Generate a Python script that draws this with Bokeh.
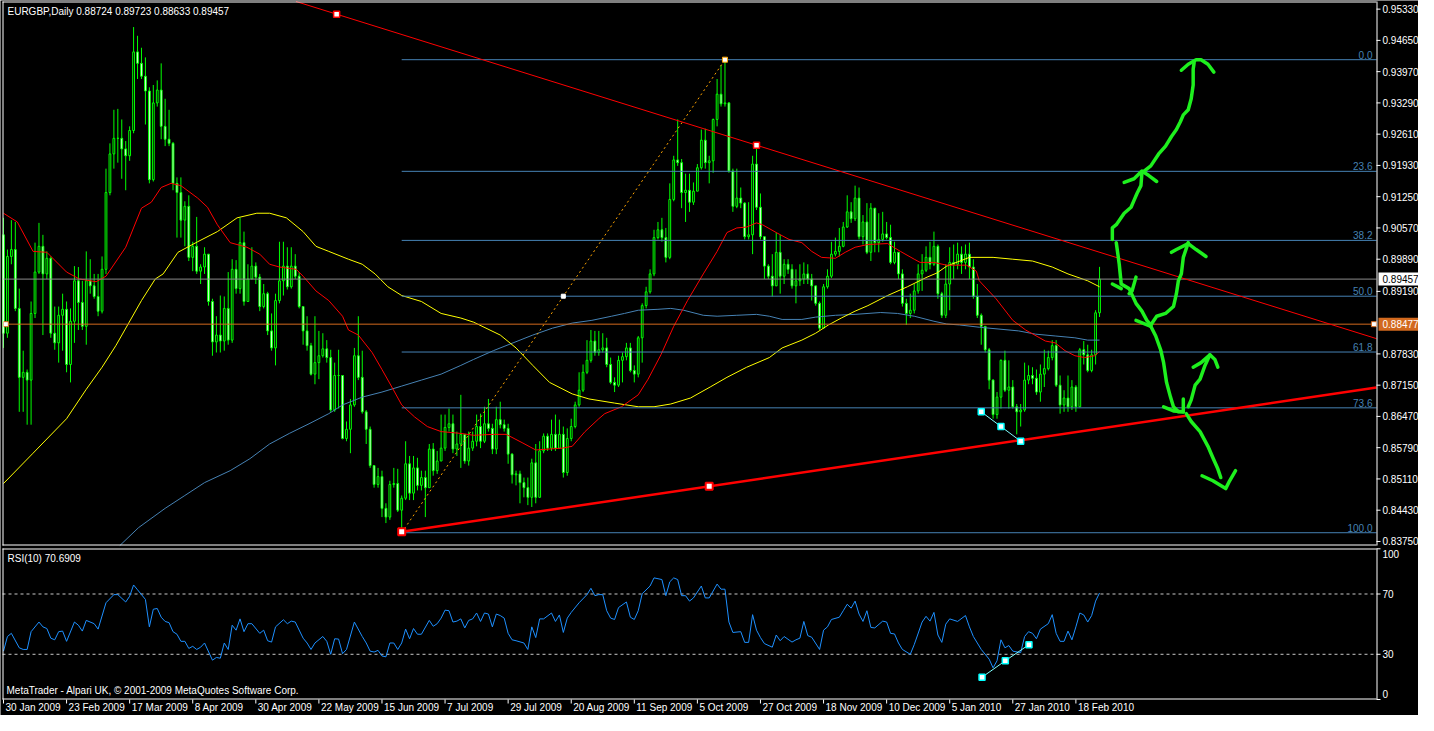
from bokeh.plotting import figure
from bokeh.models import Range1d, ColumnDataSource
from bokeh.core.properties import value
from bokeh.embed import file_html
from bokeh.resources import INLINE

# ---------------- data ----------------
first_open = 0.9042
closes = [
    .8828, .8995, .9010, .8882, .8732, .8743, .8726, .8871, .8961, .9017,
    .8957, .8991, .8828, .8807, .8867, .8880, .8760, .8854, .8942, .8895,
    .8843, .8942, .8931, .8908, .8876, .8967, .9134, .9218, .9252, .9252,
    .9229, .9214, .9269, .9440, .9415, .9387, .9355, .9162, .9329, .9357,
    .9278, .9250, .9241, .9154, .9134, .9074, .9104, .8993, .9017, .8963,
    .8972, .9000, .8897, .8809, .8824, .8811, .8882, .8813, .8967, .8925,
    .9025, .8897, .8946, .8974, .8950, .8886, .8914, .8833, .8796, .8899,
    .8942, .8974, .8929, .8974, .8952, .8886, .8833, .8801, .8739, .8764,
    .8779, .8794, .8775, .8661, .8736, .8736, .8599, .8619, .8672, .8779,
    .8732, .8657, .8619, .8540, .8499, .8516, .8447, .8428, .8499, .8501,
    .8443, .8469, .8544, .8480, .8535, .8497, .8514, .8492, .8576, .8529,
    .8550, .8578, .8623, .8631, .8576, .8587, .8608, .8550, .8578, .8593,
    .8625, .8593, .8631, .8621, .8576, .8640, .8629, .8621, .8565, .8520,
    .8522, .8503, .8492, .8471, .8546, .8471, .8572, .8604, .8578, .8608,
    .8578, .8608, .8525, .8599, .8625, .8672, .8704, .8743, .8769, .8811,
    .8786, .8792, .8796, .8760, .8721, .8715, .8769, .8777, .8796, .8747,
    .8739, .8818, .8888, .8918, .8957, .9036, .9053, .9036, .8993, .9119,
    .9205, .9199, .9134, .9139, .9113, .9137, .9188, .9248, .9199, .9203,
    .9293, .9348, .9327, .9329, .9181, .9104, .9122, .9111, .9038, .9042,
    .9196, .9102, .9038, .8974, .8952, .8931, .9004, .8952, .8978, .8967,
    .8931, .8942, .8946, .8957, .8946, .8931, .8893, .8839, .8929, .8952,
    .9000, .9006, .9017, .9059, .9092, .9077, .9122, .9038, .9070, .9004,
    .9100, .9025, .9032, .9044, .9036, .8982, .9004, .8957, .8893, .8871,
    .8878, .8920, .8957, .8965, .8993, .8978, .9017, .8914, .8867, .8935,
    .8982, .8978, .9000, .8982, .9000, .8972, .8908, .8867, .8843, .8792,
    .8726, .8651, .8689, .8769, .8704, .8711, .8668, .8657, .8661, .8726,
    .8736, .8730, .8700, .8739, .8751, .8775, .8801, .8715, .8672, .8687,
    .8668, .8711, .8668, .8792, .8781, .8747, .8781, .88724, .89457]

highs = [
    .9079, .9010, .9074, .9070, .8925, .8790, .8749, .8897, .9025, .9068,
    .9042, .9006, .8995, .8886, .8886, .8914, .8897, .8882, .8974, .8972,
    .8942, .9006, .8989, .8957, .8957, .8995, .9186, .9241, .9314, .9316,
    .9293, .9246, .9278, .9494, .9475, .9449, .9428, .9363, .9368, .9378,
    .9415, .9338, .9314, .9244, .9167, .9167, .9115, .9128, .9027, .9081,
    .8978, .9015, .9000, .8903, .8865, .8910, .8908, .8961, .8989, .8987,
    .9079, .9049, .8978, .9015, .8982, .8957, .8935, .8918, .8871, .8914,
    .9027, .9027, .9015, .9015, .9000, .8961, .8886, .8865, .8807, .8865,
    .8833, .8828, .8813, .8792, .8764, .8792, .8728, .8636, .8685, .8796,
    .8865, .8790, .8661, .8625, .8540, .8535, .8529, .8458, .8507, .8535,
    .8533, .8475, .8593, .8561, .8561, .8557, .8529, .8529, .8587, .8589,
    .8572, .8651, .8651, .8664, .8651, .8614, .8694, .8608, .8614, .8614,
    .8651, .8653, .8668, .8685, .8631, .8668, .8679, .8640, .8631, .8567,
    .8529, .8529, .8514, .8514, .8555, .8587, .8593, .8610, .8610, .8640,
    .8651, .8640, .8625, .8621, .8642, .8679, .8743, .8760, .8813, .8835,
    .8833, .8833, .8828, .8818, .8775, .8732, .8779, .8786, .8807, .8807,
    .8758, .8822, .8893, .8929, .8967, .9053, .9070, .9079, .9057, .9154,
    .9214, .9293, .9207, .9175, .9175, .9156, .9196, .9271, .9273, .9214,
    .9295, .9381, .9411, .9423, .9331, .9186, .9186, .9145, .9113, .9113,
    .9214, .9231, .9132, .9036, .8978, .9000, .9047, .9042, .8989, .8989,
    .8978, .8967, .8978, .8982, .8978, .8957, .8929, .8897, .8935, .8967,
    .9027, .9036, .9057, .9070, .9128, .9113, .9149, .9145, .9085, .9111,
    .9111, .9057, .9089, .9092, .9070, .9064, .9027, .8995, .8967, .8903,
    .8914, .8935, .8978, .9000, .9017, .9027, .9049, .9021, .8918, .8978,
    .9015, .9021, .9025, .9017, .9021, .9025, .8989, .8935, .8871, .8828,
    .8796, .8728, .8700, .8771, .8790, .8769, .8726, .8674, .8674, .8764,
    .8758, .8754, .8749, .8760, .8792, .8790, .8813, .8813, .8736, .8704,
    .8736, .8726, .8715, .8796, .8811, .8803, .8792, .8878, .89723]

lows = [
    .8796, .8818, .8978, .8876, .8657, .8657, .8629, .8629, .8861, .8957,
    .8824, .8946, .8818, .8792, .8764, .8790, .8743, .8721, .8807, .8835,
    .8835, .8803, .8914, .8903, .8865, .8871, .8957, .9128, .9186, .9199,
    .9164, .9139, .9203, .9263, .9381, .9381, .9282, .9154, .9158, .9321,
    .9250, .9235, .9235, .9139, .9036, .9036, .9017, .8985, .8963, .8957,
    .8935, .8957, .8888, .8779, .8786, .8786, .8790, .8803, .8807, .8914,
    .8914, .8888, .8935, .8957, .8935, .8876, .8882, .8824, .8790, .8758,
    .8893, .8910, .8923, .8925, .8946, .8882, .8803, .8790, .8736, .8717,
    .8728, .8775, .8764, .8657, .8657, .8664, .8597, .8593, .8567, .8668,
    .8726, .8653, .8587, .8535, .8492, .8492, .8428, .8415, .8422, .8492,
    .8439, .8394, .8465, .8465, .8465, .8486, .8486, .8428, .8501, .8518,
    .8522, .8550, .8572, .8614, .8567, .8561, .8535, .8544, .8540, .8572,
    .8582, .8578, .8589, .8614, .8565, .8565, .8621, .8614, .8544, .8501,
    .8497, .8458, .8471, .8454, .8450, .8458, .8486, .8567, .8572, .8572,
    .8572, .8578, .8514, .8518, .8593, .8621, .8668, .8700, .8739, .8764,
    .8779, .8779, .8786, .8754, .8717, .8700, .8711, .8721, .8769, .8743,
    .8721, .8732, .8764, .8882, .8914, .8952, .9032, .9027, .8982, .8989,
    .9115, .9192, .9100, .9070, .9092, .9107, .9149, .9184, .9186, .9154,
    .9177, .9278, .9321, .9321, .9177, .9092, .9100, .9100, .9032, .9032,
    .9000, .9096, .9032, .8946, .8946, .8908, .8935, .8914, .8935, .8957,
    .8925, .8893, .8931, .8935, .8935, .8899, .8888, .8835, .8839, .8925,
    .8948, .8995, .8995, .9015, .9057, .9068, .9072, .9032, .9021, .9000,
    .8985, .9004, .9004, .9027, .9032, .8978, .8978, .8946, .8886, .8846,
    .8861, .8871, .8914, .8920, .8961, .8967, .8974, .8903, .8861, .8861,
    .8878, .8946, .8967, .8957, .8967, .8946, .8903, .8861, .8803, .8786,
    .8706, .8642, .8642, .8664, .8700, .8664, .8664, .8608, .8625, .8657,
    .8717, .8717, .8694, .8679, .8711, .8747, .8769, .8711, .8653, .8657,
    .8657, .8661, .8657, .8668, .8760, .8743, .8743, .8760, .88633]

# moving averages: (bar, price) points
ma_fast = [(0, .9089), (3.5, .9070), (7.5, .9006), (11, .9004), (16, .8961), (19.25, .8946), (23.5, .8940),
           (26, .8952), (31, .9015), (35, .9100), (37.5, .9113), (40, .9145), (42.5, .9154), (45, .9149),
           (49.25, .9122), (51.75, .9102), (54.25, .9064), (57.5, .9025), (61.75, .9015), (65, .9000),
           (67.5, .8978), (70, .8972), (74.25, .8967), (76, .8952), (79.25, .8920), (82.5, .8899), (86, .8865),
           (87.5, .8835), (90, .8824), (93.5, .8786), (96, .8749), (98.5, .8711), (101, .8672), (104.25, .8646),
           (107.5, .8625), (111, .8614), (116, .8610), (119.25, .8606), (124.25, .8608), (127.5, .8608),
           (131.75, .8589), (135, .8574), (141.75, .8578), (144.25, .8582), (147.5, .8614), (151, .8642),
           (152.5, .8653), (156.75, .8668), (161, .8694), (163.5, .8728), (166.75, .8781), (170, .8843),
           (173.5, .8899), (177.5, .8957), (181, .9006), (183.5, .9047), (186, .9057), (188.5, .9059),
           (191, .9068), (192.5, .9064), (196, .9047), (199.25, .9032), (202.5, .9025), (205, .9006),
           (207.5, .8993), (211, .8991), (213.5, .9004), (216, .9015), (219.25, .9021), (224.25, .9023),
           (227.5, .9006), (231, .8989), (232.5, .8982), (236, .8982), (239.25, .8976), (244.25, .8976),
           (246.75, .8963), (247.5, .8942), (251.75, .8903), (256, .8856), (259.25, .8835), (264.25, .8811),
           (266.75, .8807), (269.25, .8790), (271.75, .8779), (274.25, .8775), (276.75, .8779), (278, .8788)]
ma_mid = [(0, .8501), (7.5, .8567), (16, .8642), (21, .8706), (25, .8754), (28.5, .8801), (31.75, .8850),
          (35, .8899), (38.5, .8946), (40.5, .8957), (44.25, .9004), (49.25, .9027), (54.25, .9049),
          (59.25, .9079), (64.25, .9089), (67.5, .9089), (71.75, .9079), (76, .9049), (79.25, .9017),
          (82.5, .9006), (87.5, .8989), (91, .8978), (94.25, .8957), (97.5, .8929), (101, .8910), (106, .8897),
          (111, .8871), (116, .8861), (119.25, .8852), (126, .8824), (130, .8796), (134.25, .8758),
          (138.5, .8721), (144.25, .8696), (148.5, .8685), (155, .8676), (161, .8668), (165, .8668),
          (169.25, .8674), (174.25, .8687), (179.25, .8711), (183.5, .8732), (188.5, .8754), (194.25, .8775),
          (197.5, .8796), (202.5, .8813), (206, .8828), (209.25, .8846), (212.5, .8861), (216, .8876),
          (219.25, .8888), (224.25, .8910), (229.25, .8929), (234.25, .8950), (236.75, .8959), (239.25, .8974),
          (245, .8993), (251, .8993), (256, .8989), (261, .8985), (266, .8972), (270, .8957), (275, .8942),
          (278, .8929)]
ma_slow = [(29.25, .8364), (34.25, .8405), (41, .8447), (46, .8475), (51, .8503), (57.5, .8529), (62.5, .8555),
           (67.5, .8587), (72.5, .8610), (77.5, .8631), (82.5, .8653), (86, .8672), (91, .8689), (96, .8700),
           (101, .8713), (106, .8726), (111, .8739), (116, .8758), (119.25, .8771), (124.25, .8790),
           (129.25, .8807), (134.25, .8824), (139.25, .8839), (144.25, .8850), (149.25, .8856), (154.25, .8865),
           (157.5, .8871), (161, .8878), (166, .8880), (169.25, .8882), (172.5, .8878), (177.5, .8867),
           (181, .8865), (186, .8867), (191, .8869), (194.25, .8865), (197.5, .8858), (202.5, .8858),
           (206, .8863), (211, .8867), (216, .8869), (222.5, .8873), (226.75, .8871), (231, .8865),
           (236, .8854), (239.25, .8848), (242.5, .8846), (247.5, .8841), (252.5, .8837), (257.5, .8833),
           (261.75, .8826), (266.75, .8822), (271.75, .8818), (275, .8813), (278, .8813)]

rsi_points = [
    (0, 32.1), (1, 41.8), (2, 43.9), (4, 34.3), (5, 33.2), (6, 33.2), (7, 45.0), (9, 51.4), (10, 48.2), (11, 47.1),
    (12, 40.7), (13, 39.6), (14, 45.0), (15, 45.4), (16, 38.6), (18, 51.4), (19, 49.3), (20, 45.4), (21, 52.5),
    (23, 50.3), (24, 46.7), (26, 64.2), (28, 69.6), (29, 69.6), (31, 64.7), (32, 68.5), (33, 76.0), (34, 72.8),
    (36, 66.4), (37, 48.2), (38, 59.9), (39, 60.4), (40, 54.6), (41, 51.8), (42, 51.0), (43, 45.0), (44, 43.3),
    (45, 38.6), (46, 38.6), (47, 33.9), (48, 35.3), (49, 33.2), (50, 34.7), (51, 37.5), (53, 26.1), (54, 27.9),
    (55, 27.4), (56, 37.5), (57, 33.2), (58, 49.3), (59, 46.0), (60, 53.5), (61, 45.0), (62, 50.3), (63, 50.3),
    (65, 43.9), (66, 46.0), (67, 39.0), (68, 38.1), (69, 48.2), (71, 52.9), (72, 50.3), (73, 52.0), (74, 51.4),
    (76, 40.7), (77, 37.5), (78, 33.2), (79, 37.5), (81, 41.8), (82, 38.6), (83, 30.0), (84, 40.3), (85, 40.1),
    (86, 30.4), (87, 33.2), (89, 51.4), (91, 41.8), (92, 37.5), (93, 32.1), (94, 31.5), (95, 32.6), (96, 28.9),
    (97, 28.3), (98, 37.5), (99, 37.5), (100, 33.2), (101, 37.5), (102, 46.7), (103, 40.3), (104, 47.1),
    (105, 43.3), (106, 43.3), (108, 52.5), (109, 48.6), (110, 50.3), (111, 54.0), (112, 59.3), (113, 58.9),
    (114, 51.4), (115, 52.0), (116, 53.5), (117, 47.5), (118, 52.5), (119, 53.5), (120, 57.4), (121, 51.8),
    (122, 57.4), (123, 56.7), (124, 48.2), (125, 56.7), (126, 55.7), (127, 54.0), (128, 43.9), (129, 39.6),
    (130, 39.0), (132, 37.5), (133, 33.2), (134, 48.2), (135, 41.1), (136, 53.5), (137, 53.5), (139, 57.4),
    (140, 51.8), (141, 56.1), (142, 44.5), (143, 54.0), (144, 57.8), (146, 64.2), (148, 69.6), (149, 73.8),
    (150, 68.9), (151, 69.6), (152, 69.6), (153, 58.9), (154, 54.0), (155, 53.1), (156, 61.0), (158, 64.7),
    (159, 54.6), (160, 53.1), (161, 58.9), (162, 70.2), (164, 75.3), (165, 80.7), (167, 79.6), (168, 68.9),
    (169, 78.1), (170, 80.7), (171, 79.6), (172, 68.9), (173, 68.9), (174, 65.3), (175, 67.4), (177, 75.3),
    (178, 67.4), (179, 67.4), (181, 76.6), (182, 73.2), (183, 73.2), (184, 51.4), (185, 44.5), (187, 45.0),
    (188, 37.9), (189, 37.9), (190, 56.3), (191, 46.0), (192, 41.1), (193, 37.1), (195, 34.7), (196, 42.8),
    (197, 39.0), (198, 41.8), (200, 38.1), (201, 39.6), (202, 40.7), (203, 51.8), (204, 42.4), (205, 41.3),
    (207, 33.2), (208, 46.0), (209, 48.2), (210, 53.1), (212, 54.6), (213, 58.9), (214, 63.2), (215, 60.6),
    (216, 65.3), (217, 56.7), (218, 51.8), (219, 58.9), (220, 47.8), (221, 47.5), (223, 52.0), (224, 51.4),
    (225, 43.9), (226, 43.5), (227, 37.5), (228, 33.2), (230, 30.0), (231, 36.4), (233, 51.4), (234, 55.2),
    (235, 52.0), (236, 57.8), (237, 42.8), (238, 37.9), (239, 50.0), (240, 53.5), (242, 51.8), (244, 55.7),
    (245, 48.2), (246, 41.8), (247, 37.5), (248, 33.2), (250, 26.8), (251, 21.0), (252, 25.7), (253, 39.6),
    (254, 34.3), (255, 35.8), (256, 32.1), (258, 31.1), (259, 41.8), (260, 45.0), (261, 43.9), (262, 40.3),
    (263, 46.7), (265, 50.3), (266, 56.3), (267, 43.9), (268, 38.6), (269, 38.6), (270, 45.4), (271, 39.6),
    (272, 48.2), (273, 57.4), (274, 56.1), (275, 51.4), (276, 55.7), (277, 65.3), (278, 70.7)]

date_ticks = [0, 16, 32, 48, 64, 80, 96, 112, 128, 144, 160, 176, 192, 208, 224, 240, 256, 272]
date_labels = ["30 Jan 2009", "23 Feb 2009", "17 Mar 2009", "8 Apr 2009", "30 Apr 2009", "22 May 2009",
               "15 Jun 2009", "7 Jul 2009", "29 Jul 2009", "20 Aug 2009", "11 Sep 2009", "5 Oct 2009",
               "27 Oct 2009", "18 Nov 2009", "10 Dec 2009", "5 Jan 2010", "27 Jan 2010", "18 Feb 2010"]
price_ticks = [0.95330, 0.94650, 0.93970, 0.93290, 0.92610, 0.91930, 0.91250, 0.90570, 0.89890,
               0.89190, 0.87830, 0.87150, 0.86470, 0.85790, 0.85110, 0.84430, 0.83750]
rsi_ticks = [100, 70, 30, 0]
rsi_levels = [30, 70]

fib_high, fib_low, fib_start = 0.9423, 0.8394, 101
fib_levels = [0.0, 23.6, 38.2, 50.0, 61.8, 73.6, 100.0]
fib_high_bar = 183
fib_mid_bar = 142

bid_price = 0.89457
hline_price = 0.88477
upper_tl = [(84.5, 0.9522), (191, 0.9237)]
lower_tl = [(101, 0.8396), (179, 0.8495)]
cyan_main = [(248, 0.8657), (253, 0.8625), (258, 0.8593)]
cyan_rsi = [(248.2, 14.8), (254.1, 25.7), (260.1, 36.4)]

title_main = "EURGBP,Daily  0.88724 0.89723 0.88633 0.89457"
title_rsi = "RSI(10) 70.6909"
footer = "MetaTrader - Alpari UK, \u00a9 2001-2009 MetaQuotes Software Corp."

# hand-drawn green scenario arrows (bar, price)
green_paths = [
    [(281.25, .9032), (281.25, .9057), (282.25, .9064), (284.25, .9089), (286, .9102), (286.75, .9117),
     (287.5, .9132), (288.5, .9149), (288.75, .9177), (291, .9192), (293, .9218), (294.75, .9235),
     (296.25, .9256), (297.5, .9271), (298.5, .9288), (299.25, .9303), (300.5, .9314), (301.25, .9338),
     (301.75, .9368), (301.75, .9402), (302, .9417)],
    [(298.75, .9400), (300.5, .9413), (302.5, .9423), (303.75, .9423), (305.5, .9413), (307, .9396)],
    [(284.25, .9156), (286.75, .9164), (288.75, .9181), (290.5, .9171), (292.5, .9158)],
    [(282.25, .9025), (283, .8978), (283.5, .8935), (285.5, .8925), (287.25, .8893), (288.75, .8876),
     (290, .8856), (291, .8846)],
    [(281.25, .8935), (283.5, .8925)],
    [(287.25, .8950), (286.25, .8920), (285.5, .8914)],
    [(291, .8846), (292.5, .8865), (294.75, .8871), (296.75, .8886), (297.5, .8914), (298, .8942),
     (298.75, .8957), (299.25, .8993), (300.5, .9025)],
    [(296.25, .9004), (297.5, .9010), (300.5, .9023), (302.5, .9010), (305, .8995)],
    [(287.25, .8856), (291, .8843)],
    [(291, .8843), (292.25, .8822), (293.5, .8792), (294.25, .8764), (295, .8721), (296, .8689),
     (296.75, .8668), (298, .8657), (299.25, .8657)],
    [(294.25, .8668), (296.75, .8659), (299.25, .8657)],
    [(299.25, .8685), (299.25, .8657)],
    [(300.5, .8668), (301.25, .8683), (302.25, .8715), (303.5, .8728), (304.75, .8758), (306, .8781)],
    [(301.75, .8754), (303.75, .8764), (306, .8781), (307.25, .8771), (308, .8754)],
    [(300, .8653), (301.25, .8636), (303.5, .8614), (305.5, .8582), (306.75, .8557), (308, .8533),
     (308.75, .8514)],
    [(304, .8518), (306.75, .8507), (310, .8490), (311, .8507), (312.5, .8529)],
]

# ---------------- canvas geometry ----------------
W, H = 1418, 715
X0, X1 = -0.25, 348.25          # bar range of both panels
Y0, Y1 = 0.83662, 0.95496       # price range of the main panel
R0, R1 = 0.0, 100.2             # RSI range
LEFT_PX, CHART_W = 2, 1374      # chart area in pixels (the rest on the right is the price scale)
MAIN_TOP, MAIN_BOT = 1, 545     # main panel, canvas rows
RSI_TOP, RSI_BOT = 548, 699     # RSI panel, canvas rows

PPB = CHART_W / (X1 - X0)                 # pixels per bar
PPX = (Y1 - Y0) / (MAIN_BOT - MAIN_TOP)   # price per pixel
RPX = (R1 - R0) / (RSI_BOT - RSI_TOP)     # rsi per pixel


def dx(px):
    return px / PPB


def dp(px):
    return px * PPX


def dr(px):
    return px * RPX


XS, XE = X0 - dx(LEFT_PX), X1 + dx(W - LEFT_PX - CHART_W)
PT, PB = Y1 + dp(MAIN_TOP), Y1 - dp(H - MAIN_TOP)
RT, RB = R1 + dr(RSI_TOP), R0 - dr(H - RSI_BOT)

FONT = value("Liberation Sans")
FS = value("10px")
LIME = "#00FF00"
FIB = "#4682B4"

p = figure(width=W, height=H, x_range=Range1d(XS, XE), y_range=Range1d(PB, PT),
           output_backend="svg", toolbar_location=None, x_axis_location=None, y_axis_location=None,
           min_border=0, min_border_left=0, min_border_right=0, min_border_top=0, min_border_bottom=0,
           background_fill_color="black", border_fill_color="black", outline_line_color=None)
p.extra_y_ranges = {"rsi": Range1d(RB, RT)}
p.grid.visible = False

# ---------------- main panel ----------------
n = len(closes)
opens = [first_open] + closes[:-1]
idx = list(range(n))
tops = [max(o, c) for o, c in zip(opens, closes)]
bots = [min(o, c) for o, c in zip(opens, closes)]
hi = [max(h, t) for h, t in zip(highs, tops)]
lo = [min(l, b) for l, b in zip(lows, bots)]
fills = ["black" if c >= o else "white" for o, c in zip(opens, closes)]
src = ColumnDataSource(dict(x=idx, top=tops, bottom=bots, high=hi, low=lo, fill=fills))
p.segment(x0="x", y0="high", x1="x", y1="low", source=src, line_color=LIME, line_width=1)
p.vbar(x="x", width=0.45, top="top", bottom="bottom", source=src, fill_color="fill",
       line_color=LIME, line_width=1)


def clip_start(pts, ymin):
    (xa, ya), (xb, yb) = pts[0], pts[1]
    if ya < ymin:
        xa = xa + (ymin - ya) / (yb - ya) * (xb - xa)
        ya = ymin
    return [(xa, ya)] + pts[1:]


for pts, col in ((clip_start(ma_slow, Y0), "#4682B4"), (ma_mid, "#FFFF00"), (ma_fast, "#FF0000")):
    p.line([q[0] for q in pts], [q[1] for q in pts], line_color=col, line_width=1)

# horizontal lines
p.segment(x0=[X0, X0], y0=[bid_price, hline_price], x1=[X1, X1], y1=[bid_price, hline_price],
          line_color=["#8C8C8C", "#D2691E"], line_width=1)
p.scatter([0.6, 347.6], [hline_price, hline_price], marker="square", size=5,
          fill_color="white", line_color="#D2691E", line_width=1)

# fibonacci retracement
rng = fib_high - fib_low
fib_prices = [fib_high - lv / 100.0 * rng for lv in fib_levels]
p.segment(x0=fib_start, y0=fib_prices, x1=X1, y1=fib_prices, line_color=FIB, line_width=1)
p.text(x=[X1 - dx(4)] * len(fib_levels), y=[fp + dp(1) for fp in fib_prices],
       text=[f"{lv:.1f}" for lv in fib_levels], text_align="right", text_baseline="bottom",
       text_color=FIB, text_font=FONT, text_font_size=FS)
p.line([fib_start, fib_high_bar], [fib_low, fib_high], line_color="#FFA500", line_width=1, line_dash="2 3")
p.scatter([fib_high_bar], [fib_high], marker="square", size=5, fill_color="white", line_color="#FFA500")
p.scatter([fib_mid_bar], [fib_low + rng / 2], marker="square", size=4, fill_color="white", line_color="white")


def at(tl, x):
    (xa, ya), (xb, yb) = tl
    return ya + (x - xa) * (yb - ya) / (xb - xa)


def x_at(tl, y):
    (xa, ya), (xb, yb) = tl
    return xa + (y - ya) * (xb - xa) / (yb - ya)


# trend lines
xu = x_at(upper_tl, Y1)
p.line([xu, X1], [Y1, at(upper_tl, X1)], line_color="#FF0000", line_width=1)
p.line([lower_tl[0][0], X1], [lower_tl[0][1], at(lower_tl, X1)], line_color="#FF0000", line_width=2.5)
p.scatter([q[0] for q in upper_tl], [q[1] for q in upper_tl], marker="square", size=6,
          fill_color="white", line_color="#FF0000", line_width=1.5)
p.scatter([q[0] for q in lower_tl], [q[1] for q in lower_tl], marker="square", size=7,
          fill_color="white", line_color="#FF0000", line_width=2)

# cyan helper line
p.line([q[0] for q in cyan_main], [q[1] for q in cyan_main], line_color="#7FFFFF", line_width=1)
p.scatter([q[0] for q in cyan_main], [q[1] for q in cyan_main], marker="square", size=6,
          fill_color="white", line_color="#00FFFF", line_width=1.5)

# green hand-drawn arrows
p.multi_line([[q[0] for q in path] for path in green_paths], [[q[1] for q in path] for path in green_paths],
             line_color="#1EF01E", line_width=3.5, line_join="round", line_cap="round")

# panel frame (white borders) and price scale
p.segment(x0=[X0, X0, X0 + dx(0.5), X1 + dx(0.5)],
          y0=[Y1 - dp(0.5), Y0 + dp(0.5), Y0, Y0],
          x1=[X1, X1, X0 + dx(0.5), X1 + dx(0.5)],
          y1=[Y1 - dp(0.5), Y0 + dp(0.5), Y1, Y1], line_color="white", line_width=1)
p.segment(x0=X1, y0=price_ticks, x1=X1 + dx(4), y1=price_ticks, line_color="white", line_width=1)
p.text(x=[X1 + dx(6)] * len(price_ticks), y=price_ticks, text=[f"{t:.5f}" for t in price_ticks],
       text_align="left", text_baseline="middle", text_color="white", text_font=FONT, text_font_size=FS)

# current-price and line-price boxes on the price scale
p.quad(left=[X1 + dx(2), X1 + dx(2)], right=[XE, XE],
       bottom=[bid_price - dp(6.5), hline_price - dp(6.5)], top=[bid_price + dp(6.5), hline_price + dp(6.5)],
       fill_color=["white", "#D2691E"], line_color=None)
p.text(x=[X1 + dx(6)] * 2, y=[bid_price, hline_price], text=[f"{bid_price:.5f}", f"{hline_price:.5f}"],
       text_align="left", text_baseline="middle", text_color=["black", "white"], text_font=FONT,
       text_font_size=FS)

p.text(x=[X0 + dx(5)], y=[Y1 - dp(4)], text=[title_main], text_align="left", text_baseline="top",
       text_color="white", text_font=FONT, text_font_size=FS)

# ---------------- RSI panel ----------------
p.segment(x0=X0, y0=rsi_levels, x1=X1, y1=rsi_levels, line_color="#C8C8C8", line_width=1,
          line_dash="3 3", y_range_name="rsi")
p.line([q[0] for q in rsi_points], [q[1] for q in rsi_points], line_color="#1E90FF", line_width=1,
       y_range_name="rsi")
p.line([q[0] for q in cyan_rsi], [q[1] for q in cyan_rsi], line_color="#7FFFFF", line_width=1,
       y_range_name="rsi")
p.scatter([q[0] for q in cyan_rsi], [q[1] for q in cyan_rsi], marker="square", size=6,
          fill_color="white", line_color="#00FFFF", line_width=1.5, y_range_name="rsi")

p.segment(x0=[X0, X0, X0 + dx(0.5), X1 + dx(0.5)],
          y0=[R1 - dr(0.5), R0 + dr(0.5), R0, R0],
          x1=[X1, X1, X0 + dx(0.5), X1 + dx(0.5)],
          y1=[R1 - dr(0.5), R0 + dr(0.5), R1, R1], line_color="white", line_width=1, y_range_name="rsi")
p.segment(x0=X1, y0=rsi_ticks, x1=X1 + dx(4), y1=rsi_ticks, line_color="white", line_width=1,
          y_range_name="rsi")
p.text(x=[X1 + dx(6)] * 4, y=[100 - dr(1), 70, 30, 0 + dr(2)], text=[str(t) for t in rsi_ticks],
       text_align="left", text_baseline=["top", "middle", "middle", "bottom"], text_color="white",
       text_font=FONT, text_font_size=FS, y_range_name="rsi")

# date scale
p.segment(x0=date_ticks, y0=R0, x1=date_ticks, y1=R0 - dr(4), line_color="white", line_width=1,
          y_range_name="rsi")
p.text(x=[t + dx(2) for t in date_ticks], y=[R0 - dr(2)] * len(date_ticks), text=date_labels,
       text_align="left", text_baseline="top", text_color="white", text_font=FONT, text_font_size=FS,
       y_range_name="rsi")

p.text(x=[X0 + dx(5), X0 + dx(4)], y=[R1 - dr(4), R0 + dr(4)], text=[title_rsi, footer],
       text_align="left", text_baseline=["top", "bottom"], text_color="white", text_font=FONT,
       text_font_size=FS, y_range_name="rsi")

open("out.html", "w").write(file_html(p, INLINE))
